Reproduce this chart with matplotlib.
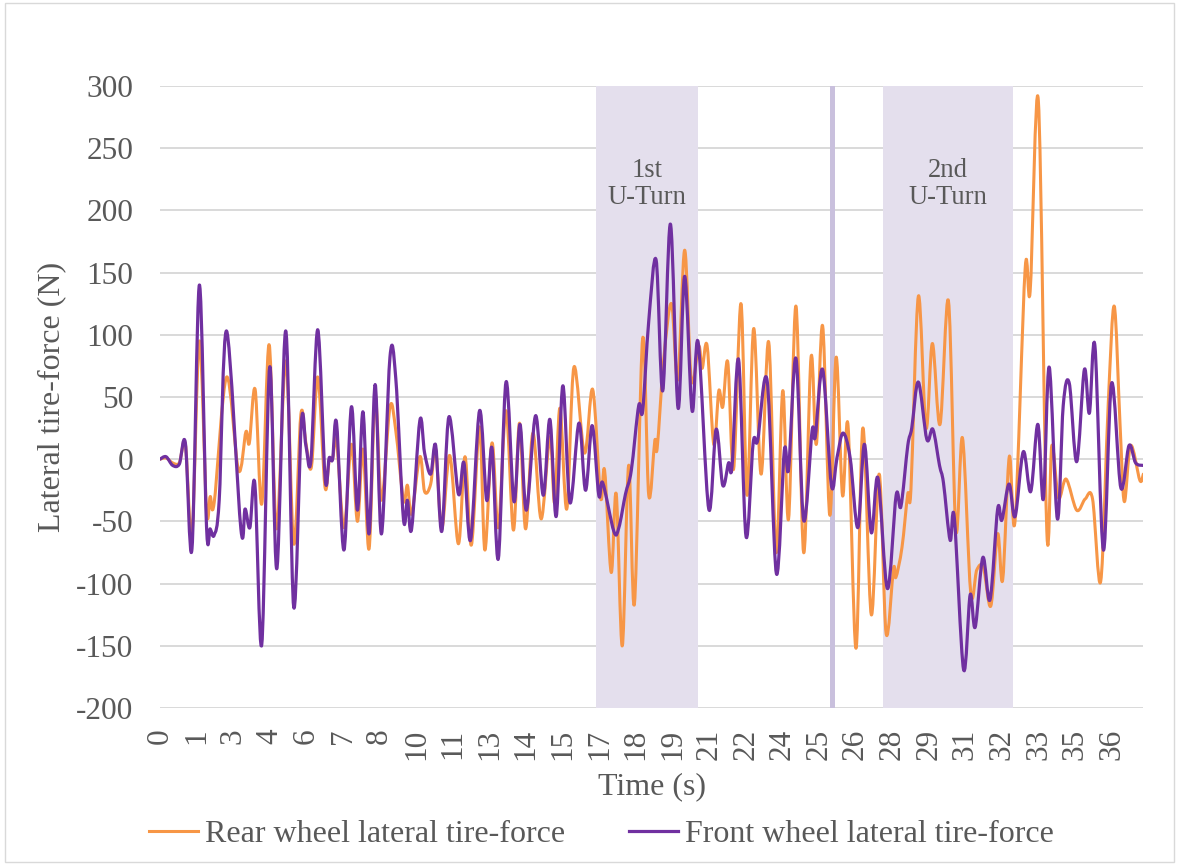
import numpy as np
import matplotlib.pyplot as plt
from matplotlib.path import Path
from matplotlib.patches import PathPatch, Rectangle
from matplotlib.lines import Line2D

plt.rcParams['font.family'] = ['Liberation Serif', 'DejaVu Serif']
plt.rcParams['axes.unicode_minus'] = False

# x axis: category labels (rounded seconds), one every ~1.385 s
tick_labels = ['0', '1', '3', '4', '6', '7', '8', '10', '11', '13', '14', '15', '17', '18',
               '19', '21', '22', '24', '25', '26', '28', '29', '31', '32', '33', '35', '36']
tick_step = 1.385

# front wheel lateral tire-force (N)
front_t = [0.00, 0.23, 0.48, 0.73, 0.96, 1.21, 1.49, 1.76, 1.90, 2.05, 2.24, 2.52, 3.06, 3.22, 3.40,
           3.59, 3.85, 4.15, 4.42, 4.76, 5.06, 5.35, 5.52, 5.71, 5.97, 6.25, 6.40, 6.53, 6.68, 6.96,
           7.24, 7.47, 7.68, 7.91, 8.14, 8.38, 8.70, 8.92, 9.21, 9.36, 9.52, 9.83, 10.01, 10.24, 10.43,
           10.66, 10.93, 11.29, 11.50, 11.75, 12.09, 12.36, 12.56, 12.80, 13.09, 13.39, 13.62, 13.86,
           14.21, 14.50, 14.75, 14.99, 15.24, 15.51, 15.85, 16.10, 16.35, 16.60, 16.75, 17.17, 17.36,
           17.61, 17.83, 18.11, 18.26, 18.49, 18.77, 19.02, 19.31, 19.60, 19.85, 20.13, 20.36, 20.76,
           21.04, 21.29, 21.51, 21.64, 21.89, 22.17, 22.44, 22.61, 22.97, 23.32, 23.62, 23.78, 24.06,
           24.35, 24.67, 24.79, 25.07, 25.40, 25.61, 25.84, 26.11, 26.40, 26.65, 26.91, 27.16, 27.52,
           27.85, 28.03, 28.29, 28.44, 28.69, 29.01, 29.24, 29.49, 29.64, 29.89, 30.05, 30.40, 30.65,
           30.84, 31.13, 31.40, 31.69, 31.85, 32.12, 32.35, 32.66, 32.94, 33.21, 33.42, 33.64, 33.95,
           34.17, 34.40, 34.68, 34.97, 35.16, 35.37, 35.69, 36.00, 36.35, 36.66, 36.91, 37.20]
front_f = [0, 2, -5, -4, 13, -72, 140, -54, -56, -61, -33, 103, -56, -40, -55,
           -20, -149, 74, -88, 103, -119, 30, 11, -1, 104, -16, 1, 0, 29, -73,
           42, -41, 38, -60, 60, -60, 82, 65, -48, -33, -56, 31, 5, -12, 11,
           -58, 34, -28, -3, -65, 39, -33, 9, -80, 62, -34, 28, -41,
           35, -29, 32, -46, 59, -35, 29, -25, 27, -29, -19, -58, -55,
           -28, -9, 43, 39, 111, 160, 55, 189, 41, 147, 39, 94, -40,
           24, -21, -3, -6, 80, -62, 13, 15, 63, -92, 7, -8, 81,
           -49, 23, 18, 72, -21, 1, 21, 1, -55, 12, -59, -15, -104,
           -29, -38, 11, 25, 62, 16, 24, -5, -19, -65, -47, -169, -109,
           -135, -79, -113, -40, -49, -20, -46, 6, -26, 28, -32, 74, -48,
           43, 61, -2, 72, 37, 91, -73, 61, -23, 11, -3, -5]

# rear wheel lateral tire-force (N)
rear_t = [0.00, 0.23, 0.48, 0.73, 0.96, 1.21, 1.49, 1.76, 1.90, 2.05, 2.52, 2.97, 3.25, 3.38, 3.60,
          3.85, 4.13, 4.41, 4.76, 5.06, 5.33, 5.52, 5.73, 5.97, 6.24, 6.40, 6.53, 6.68, 6.96, 7.24,
          7.47, 7.68, 7.91, 8.14, 8.38, 8.70, 8.92, 9.21, 9.36, 9.52, 9.83, 10.01, 10.24, 10.43, 10.66,
          10.96, 11.29, 11.54, 11.78, 12.09, 12.29, 12.56, 12.80, 13.09, 13.37, 13.60, 13.83, 14.11,
          14.42, 14.75, 14.93, 15.13, 15.39, 15.66, 16.06, 16.37, 16.67, 16.82, 17.07, 17.26, 17.49,
          17.73, 17.95, 18.26, 18.49, 18.72, 18.81, 19.06, 19.35, 19.59, 19.85, 20.10, 20.38, 20.51,
          20.70, 20.95, 21.14, 21.29, 21.48, 21.70, 21.98, 22.21, 22.46, 22.74, 23.03, 23.31, 23.56,
          23.78, 24.06, 24.35, 24.63, 24.83, 25.07, 25.34, 25.58, 25.82, 26.03, 26.33, 26.59, 26.91,
          27.21, 27.47, 27.75, 27.84, 28.07, 28.29, 28.41, 28.69, 28.98, 29.22, 29.51, 29.83, 30.11,
          30.36, 30.67, 30.90, 31.15, 31.43, 31.69, 31.88, 32.13, 32.35, 32.73, 32.92, 33.23, 33.55,
          33.74, 33.99, 34.28, 34.68, 35.00, 35.28, 35.59, 35.87, 36.10, 36.32, 36.48, 36.72, 37.07,
          37.20]
rear_f = [0, 1, -3, -3, 12, -60, 95, -41, -30, -35, 66, -9, 22, 13, 56,
          -36, 92, -56, 79, -68, 36, 13, -6, 66, -22, -1, 0, 15, -55, 12,
          -50, 8, -72, 50, -33, 42, 23, -33, -21, -44, 2, -26, -20, 8, -56,
          3, -68, 2, -69, 26, -73, 13, -55, 39, -57, 29, -56, 21,
          -48, 18, -35, 41, -40, 74, 5, 56, -31, -9, -91, -28, -150,
          -5, -116, 97, -29, 15, 9, 81, 125, 64, 168, 64, 91, 73,
          91, 12, 55, 42, 78, -8, 125, -29, 105, -12, 94, -75, 55,
          -48, 123, -75, 82, 12, 107, -45, 82, -29, 27, -152, 25, -125,
          -12, -140, -88, -95, -71, -28, -24, 131, 25, 93, 28, 127, -57,
          17, -107, -89, -87, -118, -60, -97, 2, -49, 153, 135, 288, -58,
          11, -31, -16, -41, -32, -32, -98, 43, 123, 28, -34, 11, -17,
          -12]

# shaded manoeuvre windows (s)
uturn_spans = [(16.48, 20.37), (27.35, 32.27)]
uturn_names = ['1st\nU-Turn', '2nd\nU-Turn']
marker_span = (25.36, 25.55)

orange = '#f79646'
purple = '#7030a0'
grey_txt = '#595959'


def smooth_line(x, y):
    # Excel-like smoothed line: cubic bezier through the points
    n = len(x)
    verts = [(x[0], y[0])]
    codes = [Path.MOVETO]
    for i in range(n - 1):
        a = max(i - 1, 0)
        b = min(i + 2, n - 1)
        c1 = (x[i] + (x[i + 1] - x[a]) / 6, y[i] + (y[i + 1] - y[a]) / 6)
        c2 = (x[i + 1] - (x[b] - x[i]) / 6, y[i + 1] - (y[b] - y[i]) / 6)
        verts += [c1, c2, (x[i + 1], y[i + 1])]
        codes += [Path.CURVE4] * 3
    return Path(verts, codes)


fig = plt.figure(figsize=(11.79, 8.65), dpi=100)
ax = fig.add_axes([0.1357, 0.1815, 0.8338, 0.7191])

for (a, b), name in zip(uturn_spans, uturn_names):
    ax.axvspan(a, b, color='#e4dfed', lw=0, zorder=1)
    ax.text((a + b) / 2, 221, name, ha='center', va='center', fontsize=19.2,
            color=grey_txt, linespacing=1.12, zorder=4)
ax.axvspan(marker_span[0], marker_span[1], color='#c9c0dd', lw=0, zorder=1)

ax.add_patch(PathPatch(smooth_line(rear_t, rear_f), fill=False, edgecolor=orange,
                       lw=2.2, zorder=2, capstyle='round', joinstyle='round'))
ax.add_patch(PathPatch(smooth_line(front_t, front_f), fill=False, edgecolor=purple,
                       lw=2.3, zorder=3, capstyle='round', joinstyle='round'))

ax.set_xlim(0, 37.19)
ax.set_ylim(-200, 300)
ax.set_yticks(np.arange(-200, 301, 50))
ax.set_xticks(np.arange(len(tick_labels)) * tick_step)
ax.set_xticklabels(tick_labels, rotation=90)
ax.grid(axis='y', color='#d9d9d9', lw=1.4)
ax.set_axisbelow(True)
for s in ax.spines.values():
    s.set_visible(False)
ax.tick_params(axis='both', length=0, labelsize=22.5, colors=grey_txt)
ax.tick_params(axis='x', pad=15)
ax.tick_params(axis='y', pad=19)

ax.set_xlabel('Time (s)', fontsize=23, color=grey_txt)
ax.xaxis.set_label_coords(0.5, -0.127)
ax.xaxis.label.set_va('center')
ax.set_ylabel('Lateral tire-force (N)', fontsize=23, color=grey_txt)
ax.yaxis.set_label_coords(-0.11, 0.5)
ax.yaxis.label.set_va('center')

handles = [Line2D([], [], color=orange, lw=2.2), Line2D([], [], color=purple, lw=2.3)]
leg = fig.legend(handles, ['Rear wheel lateral tire-force', 'Front wheel lateral tire-force'],
                 loc='center', bbox_to_anchor=(0.51, 0.035), ncol=2, frameon=False,
                 fontsize=23, handlelength=1.55, handletextpad=0.2, columnspacing=2.0)
for t in leg.get_texts():
    t.set_color(grey_txt)

fig.add_artist(Rectangle((0.004, 0.004), 0.992, 0.992, transform=fig.transFigure,
                         fill=False, edgecolor='#d9d9d9', lw=1))

fig.savefig('out.png', dpi=100)
